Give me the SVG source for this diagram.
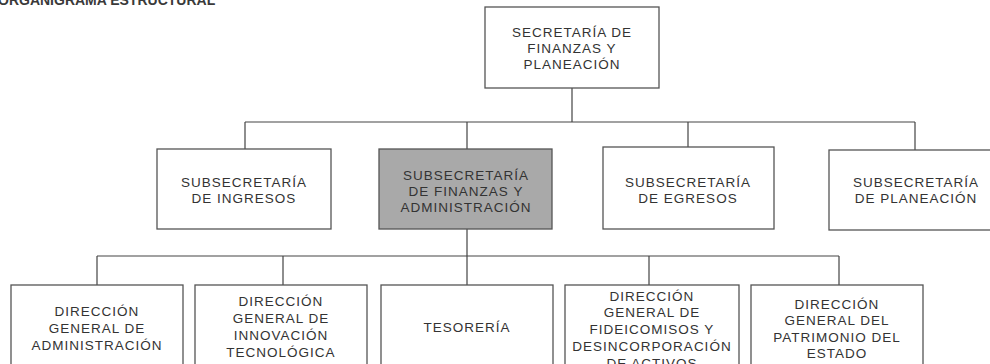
<svg xmlns="http://www.w3.org/2000/svg" width="990" height="364" viewBox="0 0 990 364">
<style>
.box{fill:#fff;stroke:#555;stroke-width:1.3}
.gray{fill:#a9a9a9}
.t{font-family:"Liberation Sans",Arial,sans-serif;font-size:13.5px;letter-spacing:1px;fill:#333;text-anchor:middle}
.c{fill:none;stroke:#444;stroke-width:1.2}
.title{font-family:"Liberation Sans",Arial,sans-serif;font-size:14px;font-weight:bold;fill:#3a3a3a}
</style>
<rect width="990" height="364" fill="#fff"/>
<text class="title" x="-2" y="5">ORGANIGRAMA ESTRUCTURAL</text>
<g id="connectors">
<path class="c" d="M572 88V122M245 122H915M245 122V149M467 122V149M688 122V147M915 122V150"/>
<path class="c" d="M467 229V256M97 256H839M97 256V285M283 256V285M467 256V285M649 256V285M839 256V285"/>
</g>
<g id="secretaria">
<rect class="box" x="485" y="7" width="174" height="81"/>
<text class="t"><tspan x="572" y="37">SECRETARÍA DE</tspan><tspan x="572" y="53">FINANZAS Y</tspan><tspan x="572" y="69">PLANEACIÓN</tspan></text>
</g>
<g id="sub-ingresos">
<rect class="box" x="157" y="149" width="174" height="80"/>
<text class="t"><tspan x="244" y="187">SUBSECRETARÍA</tspan><tspan x="244" y="203">DE INGRESOS</tspan></text>
</g>
<g id="sub-finanzas">
<rect class="box gray" x="379" y="149" width="173" height="80"/>
<text class="t"><tspan x="466" y="180">SUBSECRETARÍA</tspan><tspan x="466" y="196">DE FINANZAS Y</tspan><tspan x="466" y="212">ADMINISTRACIÓN</tspan></text>
</g>
<g id="sub-egresos">
<rect class="box" x="603" y="147" width="171" height="82"/>
<text class="t"><tspan x="688" y="187">SUBSECRETARÍA</tspan><tspan x="688" y="203">DE EGRESOS</tspan></text>
</g>
<g id="sub-planeacion">
<rect class="box" x="829" y="150" width="175" height="80"/>
<text class="t"><tspan x="916" y="187">SUBSECRETARÍA</tspan><tspan x="916" y="203">DE PLANEACIÓN</tspan></text>
</g>
<g id="dg-administracion">
<rect class="box" x="11" y="285" width="172" height="90"/>
<text class="t"><tspan x="97" y="316">DIRECCIÓN</tspan><tspan x="97" y="333">GENERAL DE</tspan><tspan x="97" y="350">ADMINISTRACIÓN</tspan></text>
</g>
<g id="dg-innovacion">
<rect class="box" x="195" y="285" width="172" height="90"/>
<text class="t"><tspan x="281" y="306">DIRECCIÓN</tspan><tspan x="281" y="323">GENERAL DE</tspan><tspan x="281" y="340">INNOVACIÓN</tspan><tspan x="281" y="357">TECNOLÓGICA</tspan></text>
</g>
<g id="tesoreria">
<rect class="box" x="381" y="285" width="172" height="90"/>
<text class="t" x="467" y="332">TESORERÍA</text>
</g>
<g id="dg-fideicomisos">
<rect class="box" x="565" y="285" width="174" height="90"/>
<text class="t"><tspan x="652" y="301">DIRECCIÓN</tspan><tspan x="652" y="317">GENERAL DE</tspan><tspan x="652" y="334">FIDEICOMISOS Y</tspan><tspan x="652" y="351">DESINCORPORACIÓN</tspan><tspan x="652" y="368">DE ACTIVOS</tspan></text>
</g>
<g id="dg-patrimonio">
<rect class="box" x="751" y="285" width="172" height="90"/>
<text class="t"><tspan x="837" y="309">DIRECCIÓN</tspan><tspan x="837" y="325">GENERAL DEL</tspan><tspan x="837" y="342">PATRIMONIO DEL</tspan><tspan x="837" y="358">ESTADO</tspan></text>
</g>
</svg>
